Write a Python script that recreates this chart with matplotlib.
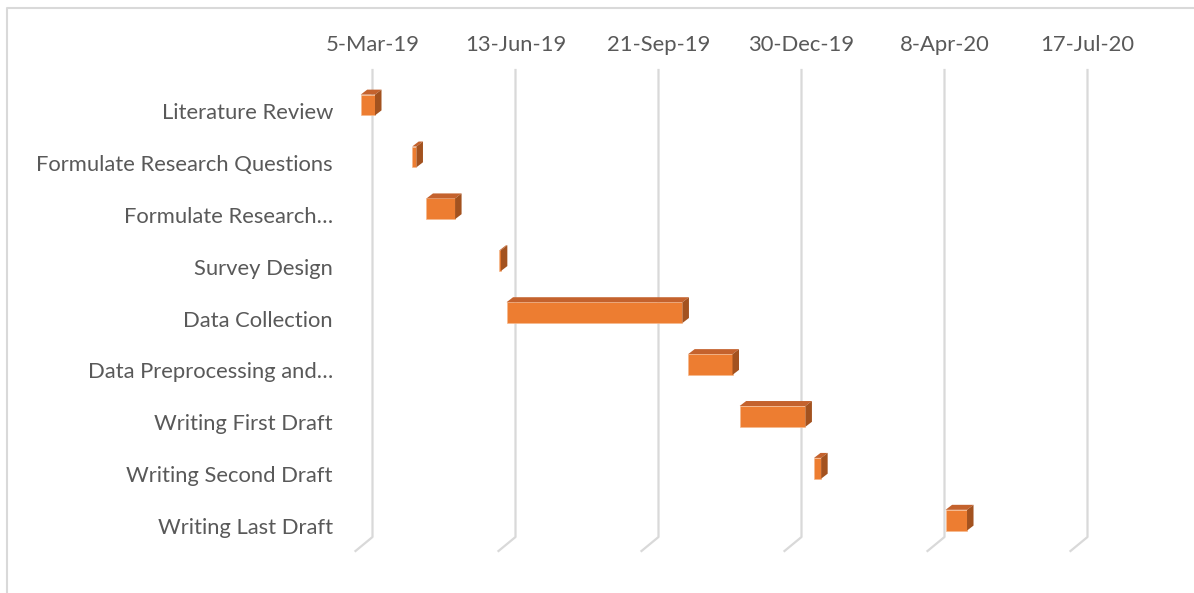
import datetime as dt
import matplotlib
matplotlib.use('Agg')
import matplotlib.pyplot as plt
import matplotlib.dates as mdates
from matplotlib.lines import Line2D
from matplotlib.patches import Polygon
from matplotlib.transforms import IdentityTransform

plt.rcParams['font.family'] = ['Lato', 'DejaVu Sans']

tasks = ['Literature Review', 'Formulate Research Questions', 'Formulate Research\u2026',
         'Survey Design', 'Data Collection', 'Data Preprocessing and\u2026',
         'Writing First Draft', 'Writing Second Draft', 'Writing Last Draft']
starts = ['2019-03-05', '2019-04-10', '2019-04-20', '2019-06-10', '2019-06-15',
          '2019-10-20', '2019-11-25', '2020-01-16', '2020-04-17']
durations = [10, 3, 20, 1, 123, 31, 46, 5, 15]
tick_dates = ['2019-03-05', '2019-06-13', '2019-09-21', '2019-12-30', '2020-04-08', '2020-07-17']

orange = '#ED7D31'
top_col = '#C4622D'
side_col = '#A3521F'
grid_col = '#D9D9D9'
text_col = '#595959'
fsize = 15.8

W, H, DPI = 1194, 593, 100
fig = plt.figure(figsize=(W / DPI, H / DPI), dpi=DPI)
fig.patch.set_facecolor('white')

# plot area (pixels from top-left)
ax_l, ax_r, ax_t, ax_b = 340, 1150, 60, 560
ax = fig.add_axes([ax_l / W, (H - ax_b) / H, (ax_r - ax_l) / W, (ax_b - ax_t) / H])
ax.set_facecolor('none')
for s in ax.spines.values():
    s.set_visible(False)
ax.set_xticks([])
ax.set_yticks([])

d0 = mdates.date2num(dt.date(2019, 3, 5))
px_day = 1.43
ax.set_xlim(d0 - (360.7 - ax_l) / px_day, d0 + (ax_r - 360.7) / px_day)
row_px = 51.9
ax.set_ylim((ax_b - 105) / row_px, (ax_t - 105) / row_px)

start_num = [mdates.datestr2num(s) for s in starts]
ypos = list(range(len(tasks)))
bh = 0.4

# depth offsets in pixels
ddx, ddy = 6.5, 5
back_dx = 11.8
floor_dx, floor_dy = -17, -14

ident = IdentityTransform()

# back wall gridlines with floor edge
for td in tick_dates:
    tn = mdates.datestr2num(td)
    xd = ax.transData.transform((tn, 0))[0] + back_dx
    y_top = H - 70
    y_bot = H - 537
    ax.add_line(Line2D([xd, xd, xd + floor_dx], [y_top, y_bot, y_bot + floor_dy],
                       transform=ident, color=grid_col, lw=1.6, clip_on=False, zorder=1))
    ax.text(xd, H - 45, mdates.num2date(tn).strftime('%-d-%b-%y'), transform=ident,
            ha='center', va='center', fontsize=fsize, color=text_col)

# front faces
ax.barh(ypos, durations, left=start_num, height=bh, color=orange,
        edgecolor='#F6B98E', linewidth=0.5, zorder=3)

# top and side faces
for y, s, d in zip(ypos, start_num, durations):
    (x0, yt), (x1, yb) = ax.transData.transform([(s, y - bh / 2), (s + d, y + bh / 2)])
    top = Polygon([(x0, yt), (x1, yt), (x1 + ddx, yt + ddy), (x0 + ddx, yt + ddy)],
                  closed=True, transform=ident, color=top_col, lw=0, zorder=3, clip_on=False)
    side = Polygon([(x1, yt), (x1 + ddx, yt + ddy), (x1 + ddx, yb + ddy), (x1, yb)],
                   closed=True, transform=ident, color=side_col, lw=0, zorder=3, clip_on=False)
    ax.add_patch(top)
    ax.add_patch(side)

# category labels
for y, name in zip(ypos, tasks):
    yd = ax.transData.transform((d0, y))[1] - 8
    ax.text(333, yd, name, transform=ident, ha='right', va='center',
            fontsize=fsize, color=text_col)

# chart border (top and left edges)
fig.add_artist(Line2D([7, 7, W], [0, H - 8, H - 8], transform=ident,
                      color=grid_col, lw=1.5))

fig.savefig('out.png', dpi=DPI, facecolor='white')
